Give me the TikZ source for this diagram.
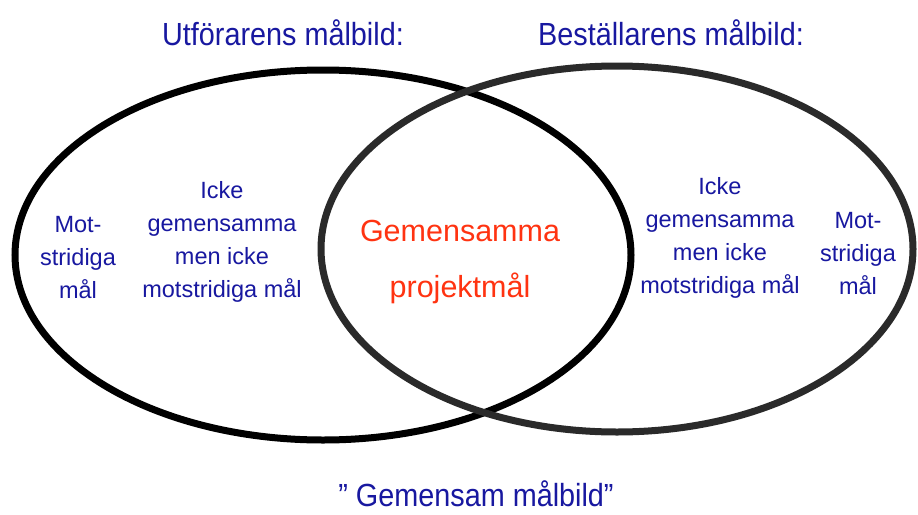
\documentclass[tikz,border=0pt]{standalone}
\usepackage{fontspec}
\setmainfont{Liberation Sans}
\usetikzlibrary{shapes.geometric}
\definecolor{txtblue}{RGB}{24,24,160}
\definecolor{txtred}{RGB}{255,51,17}
\definecolor{ringgray}{RGB}{42,42,42}
\tikzset{
  ring/.style={line width=7pt},
  bodytxt/.style={text=txtblue, align=center, inner sep=0pt,
    font=\fontsize{23.5}{33}\selectfont},
  titletxt/.style={text=txtblue, inner sep=0pt, xscale=0.9,
    font=\fontsize{32}{36}\selectfont},
  redtxt/.style={text=txtred, align=center, inner sep=0pt,
    font=\fontsize{30.5}{56}\selectfont}
}
\begin{document}
\begin{tikzpicture}[x=1pt,y=-1pt]
\useasboundingbox (0,0) rectangle (918,514);
\fill[white] (0,0) rectangle (918,514);
% rings
\draw[ring, black] (323,255) ellipse [x radius=308, y radius=185];
\draw[ring, ringgray] (617,249) ellipse [x radius=296, y radius=183];
% titles
\node[titletxt, transform shape] (tleft) at (283,33) {Utförarens målbild:};
\node[titletxt, transform shape] (tright) at (671,33) {Beställarens målbild:};
\node[titletxt, transform shape] (tbottom) at (476,494) {” Gemensam målbild”};
% body texts
\node[bodytxt] (lmot) at (78,258) {Mot-\\stridiga\\mål};
\node[bodytxt] (licke) at (222,242) {Icke\\gemensamma\\men icke\\motstridiga mål};
\node[redtxt] (common) at (460,262) {Gemensamma\\projektmål};
\node[bodytxt] (ricke) at (720,238) {Icke\\gemensamma\\men icke\\motstridiga mål};
\node[bodytxt] (rmot) at (858,254) {Mot-\\stridiga\\mål};
\end{tikzpicture}
\end{document}
